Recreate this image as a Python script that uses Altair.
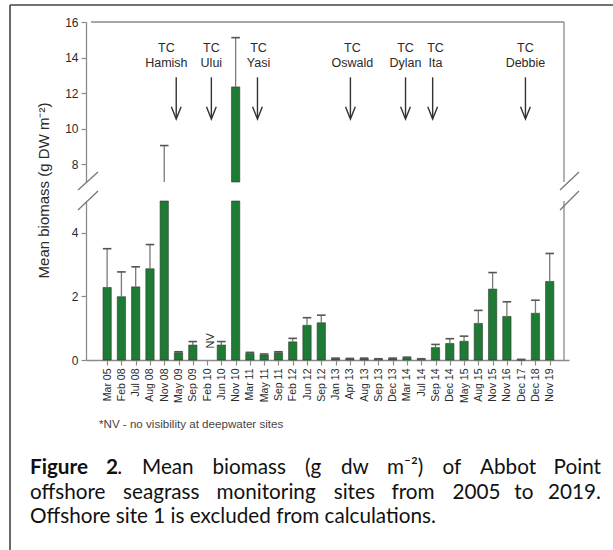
import altair as alt
import pandas as pd

# ---- survey data -------------------------------------------------------
surveys = ["Mar 05", "Feb 08", "Jul 08", "Aug 08", "Nov 08", "May 09", "Sep 09", "Feb 10",
           "Jun 10", "Nov 10", "Mar 11", "May 11", "Sep 11", "Feb 12", "Jun 12", "Sep 12",
           "Jan 13", "Apr 13", "Aug 13", "Sep 13", "Dec 13", "Mar 14", "Jul 14", "Sep 14",
           "Dec 14", "May 15", "Aug 15", "Nov 15", "Nov 16", "Dec 17", "Dec 18", "Nov 19"]

# mean biomass (g DW m-2); Feb 10 had no visibility (NV)
mean_biomass = [2.28, 1.99, 2.30, 2.87, 5.6, 0.23, 0.47, None,
                0.47, 12.35, 0.21, 0.16, 0.23, 0.57, 1.09, 1.17,
                0.04, 0.03, 0.04, 0.02, 0.04, 0.07, 0.02, 0.39,
                0.52, 0.59, 1.15, 2.23, 1.37, 0.0, 1.47, 2.47]

# top of the standard-error whisker
upper_error = [3.50, 2.77, 2.93, 3.63, 9.05, 0.26, 0.58, None,
               0.58, 15.12, 0.24, 0.19, 0.26, 0.68, 1.33, 1.41,
               0.06, 0.05, 0.06, 0.04, 0.06, 0.09, 0.04, 0.49,
               0.67, 0.75, 1.56, 2.75, 1.83, 0.02, 1.88, 3.35]

# tropical cyclones (position along the survey axis)
cyclones = ["Hamish", "Ului", "Yasi", "Oswald", "Dylan", "Ita", "Debbie"]
cyclone_label_pos = [4.15, 7.3, 10.6, 17.18, 20.9, 23.0, 29.3]
cyclone_arrow_pos = [4.84, 7.3, 10.53, 17.04, 20.9, 22.8, 29.3]

df = pd.DataFrame({
    "idx": list(range(len(surveys))),
    "survey": surveys,
    "mean": mean_biomass,
    "upper": upper_error,
})
tc = pd.DataFrame({"name": cyclones, "label_x": cyclone_label_pos,
                   "arrow_x": cyclone_arrow_pos})

# ---- styling -------------------------------------------------------------
FONT = "Liberation Sans"
CAPTION_FONT = "Lato"
CAPTION_SIZE = 20.7
GREEN = "#1f7a36"
AXIS_GREY = "#8a8a8a"
TEXT = "#2a2a2a"

W, H = 483, 338
X_MIN, X_MAX = -1.13, 32.0

X = alt.Scale(domain=[X_MIN, X_MAX], nice=False, zero=False)
# broken y axis: upper panel 7-16, lower panel 0-5
Y_TOP = alt.Scale(domain=[7, 16], range=[160, 0], clamp=True, nice=False, zero=False)
Y_BOT = alt.Scale(domain=[0, 5], range=[H, 179], clamp=True, nice=False, zero=False)

label_js = "[" + ",".join("'%s'" % s for s in surveys) + "][datum.value]"
x_axis = alt.Axis(values=list(range(len(surveys))), labelExpr=label_js, labelAngle=270,
                  labelAlign="right", labelBaseline="middle",
                  labelFont="Liberation Sans Narrow, Liberation Sans",
                  labelFontSize=10.5, labelColor=TEXT, labelPadding=3, tickSize=5,
                  tickColor=AXIS_GREY, domainColor=AXIS_GREY, domainWidth=1.3, tickWidth=1.2,
                  grid=False, title=None)

top_axis = alt.Axis(orient="left", values=[8, 10, 12, 14, 16], tickSize=5, labelFont=FONT,
                    labelFontSize=12, labelColor=TEXT, tickColor=AXIS_GREY,
                    domainColor=AXIS_GREY, domainWidth=1.3, tickWidth=1.2, grid=False,
                    labelPadding=3, title="Mean biomass (g DW m\u207b\u00b2)",
                    titleFont=FONT, titleFontSize=15, titleFontWeight="normal",
                    titleColor=TEXT, titleAngle=270, titleX=-43, titleY=168,
                    titleAlign="center", titleBaseline="middle")
bot_axis = alt.Axis(orient="left", values=[0, 2, 4], tickSize=5, labelFont=FONT,
                    labelFontSize=12, labelColor=TEXT, tickColor=AXIS_GREY,
                    domainColor=AXIS_GREY, domainWidth=1.3, tickWidth=1.2, grid=False,
                    labelPadding=3, title=None)

base = alt.Chart(df)
xq = alt.X("idx:Q", scale=X, axis=x_axis)

# ---- bars ---------------------------------------------------------------
bar_style = dict(size=8.3, color=GREEN, stroke="#2e3d2e", strokeWidth=0.6)
bars_bot = base.transform_filter("isValid(datum.mean)").mark_bar(**bar_style).encode(
    x=xq, y=alt.Y("mean:Q", scale=Y_BOT, axis=bot_axis), y2=alt.datum(0))
bars_top = base.transform_filter("datum.mean > 7").mark_bar(**bar_style).encode(
    x=xq, y=alt.Y("mean:Q", scale=Y_TOP, axis=top_axis), y2=alt.datum(7))

# ---- error whiskers -----------------------------------------------------
err_line = dict(color="#7a7a7a", strokeWidth=1.3)
cap_style = dict(color="#555555", strokeWidth=1.6)
caps = base.transform_calculate(xl="datum.idx - 0.3", xr="datum.idx + 0.3")

whisk_bot = base.transform_filter("isValid(datum.mean) && datum.mean < 5").mark_rule(**err_line).encode(
    x=xq, y=alt.Y("mean:Q", scale=Y_BOT, axis=None), y2="upper:Q")
cap_bot = caps.transform_filter("isValid(datum.upper) && datum.upper <= 5").mark_rule(**cap_style).encode(
    x=alt.X("xl:Q", scale=X, axis=x_axis), x2="xr:Q",
    y=alt.Y("upper:Q", scale=Y_BOT, axis=None))
whisk_top = base.transform_filter("datum.upper > 7").mark_rule(**err_line).encode(
    x=xq, y=alt.Y("mean:Q", scale=Y_TOP, axis=None), y2="upper:Q")
cap_top = caps.transform_filter("datum.upper > 7").mark_rule(**cap_style).encode(
    x=alt.X("xl:Q", scale=X, axis=x_axis), x2="xr:Q",
    y=alt.Y("upper:Q", scale=Y_TOP, axis=None))

# NV marker for the Feb 10 survey
nv = alt.Chart(pd.DataFrame({"x": [7.3], "y": [0.6], "t": ["NV"]})).mark_text(
    angle=270, font=FONT, fontSize=11, color=TEXT).encode(
    x=alt.X("x:Q", scale=X, axis=x_axis), y=alt.Y("y:Q", scale=Y_BOT, axis=None), text="t:N")

# ---- frame of the broken plot -------------------------------------------
frame = dict(color=AXIS_GREY, strokeWidth=1.3)
top_line = alt.Chart(df.head(1)).mark_rule(**frame).encode(
    x=alt.XDatum(X_MIN, scale=X, axis=x_axis), x2=alt.datum(X_MAX),
    y=alt.YDatum(16, scale=Y_TOP, axis=None))
right_top = alt.Chart(df.head(1)).mark_rule(**frame).encode(
    x=alt.XDatum(X_MAX, scale=X, axis=x_axis),
    y=alt.YDatum(7, scale=Y_TOP, axis=None), y2=alt.datum(16))
right_bot = alt.Chart(df.head(1)).mark_rule(**frame).encode(
    x=alt.XDatum(X_MAX, scale=X, axis=x_axis),
    y=alt.YDatum(0, scale=Y_BOT, axis=None), y2=alt.datum(5))

# axis-break slashes (pixel positions inside the plot area)
slash = dict(color="#777777", strokeWidth=1.3)
breaks = []
for x0, x1 in [(-8, 12), (474, 493)]:
    for ya, yb in [(168, 150), (188, 169)]:
        breaks.append(alt.Chart(df.head(1)).mark_rule(**slash).encode(
            x=alt.value(x0), x2=alt.value(x1), y=alt.value(ya), y2=alt.value(yb)))

# ---- cyclone annotations -------------------------------------------------
tc_base = alt.Chart(tc)
tc_word = tc_base.mark_text(font=FONT, fontSize=12.5, color=TEXT, text="TC").encode(
    x=alt.X("label_x:Q", scale=X, axis=x_axis), y=alt.YDatum(14.52, scale=Y_TOP, axis=None))
tc_name = tc_base.mark_text(font=FONT, fontSize=12.5, color=TEXT).encode(
    x=alt.X("label_x:Q", scale=X, axis=x_axis), y=alt.YDatum(13.68, scale=Y_TOP, axis=None),
    text="name:N")
tc_shaft = tc_base.mark_rule(color="#333333", strokeWidth=1.4).encode(
    x=alt.X("arrow_x:Q", scale=X, axis=x_axis), y=alt.YDatum(12.89, scale=Y_TOP, axis=None),
    y2=alt.datum(10.6))
tc_head = tc_base.mark_point(shape="M-0.4,-1L0,0L0.4,-1", filled=False, size=600,
                             stroke="#333333", strokeWidth=1.4, opacity=1).encode(
    x=alt.X("arrow_x:Q", scale=X, axis=x_axis), y=alt.YDatum(10.54, scale=Y_TOP, axis=None))

# ---- footnote, caption and outer frame ------------------------------------
def txt(x, y, s, size, weight="normal", font=CAPTION_FONT, color="#111111", align="left"):
    return alt.Chart(df.head(1)).mark_text(
        text=s, font=font, fontSize=size, fontWeight=weight, color=color,
        align=align, baseline="middle").encode(x=alt.value(x), y=alt.value(y))

# justified caption: (word, left edge in px relative to the plot, bold, align)
caption_line1 = [("Figure", -56, True, "left"), ("2", 20, True, "left"),
                 (".", 31.3, False, "left"), ("Mean", 56, False, "left"),
                 ("biomass", 126.5, False, "left"), ("(g", 219, False, "left"),
                 ("dw", 255, False, "left"), ("m\u207b\u00b2)", 301, False, "left"),
                 ("of", 356.5, False, "left"), ("Abbot", 394, False, "left"),
                 ("Point", 515, False, "right")]
caption_line2 = [("offshore", -56), ("seagrass", 37), ("monitoring", 130.5),
                 ("sites", 247.7), ("from", 305.5), ("2005", 366.4), ("to", 428.3)]

notes = [txt(13, 403, "*NV - no visibility at deepwater sites", 11.6, font=FONT, color="#444444")]
for word, x, bold, align in caption_line1:
    notes.append(txt(x, 446, word, CAPTION_SIZE, weight="bold" if bold else "normal", align=align))
for word, x in caption_line2:
    notes.append(txt(x, 471, word, CAPTION_SIZE))
notes.append(txt(515, 471, "2019.", CAPTION_SIZE, align="right"))
notes.append(txt(-56, 495, "Offshore site 1 is excluded from calculations.", CAPTION_SIZE))

outer = [
    alt.Chart(df.head(1)).mark_rule(color="#444444", strokeWidth=1.6).encode(
        x=alt.value(-76), x2=alt.value(530), y=alt.value(-17)),
    alt.Chart(df.head(1)).mark_rule(color="#444444", strokeWidth=1.6).encode(
        x=alt.value(-76), y=alt.value(-17), y2=alt.value(530)),
]

chart = alt.layer(
    bars_bot, bars_top, whisk_bot, cap_bot, whisk_top, cap_top, nv,
    top_line, right_top, right_bot, *breaks,
    tc_word, tc_name, tc_shaft, tc_head, *notes, *outer,
).resolve_scale(y="independent").resolve_axis(y="independent").properties(
    width=W, height=H,
    padding={"left": 86, "top": 22, "right": 44, "bottom": 190},
    autosize=alt.AutoSizeParams(type="none"),
    background="white",
).configure_view(stroke=None)

chart.save("out.html", embed_options={"renderer": "svg", "actions": False})
